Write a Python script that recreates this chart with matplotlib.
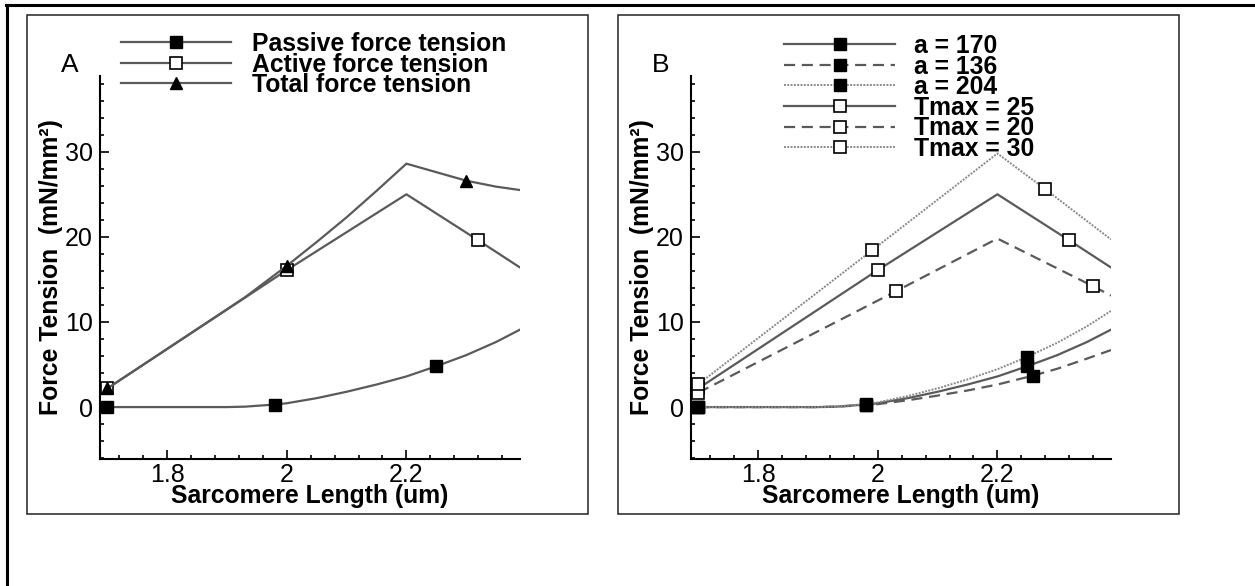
import matplotlib
matplotlib.use("Agg")
import matplotlib.pyplot as plt
from matplotlib import font_manager
from matplotlib.ticker import MultipleLocator, FuncFormatter
from matplotlib.patches import Rectangle
from matplotlib.lines import Line2D

# panel A data
passive_x = [1.70, 1.80, 1.90, 1.93, 1.98, 2.00, 2.05, 2.10, 2.15, 2.20, 2.25, 2.30, 2.35, 2.39]
passive_y = [0.0, 0.0, 0.0, 0.05, 0.3, 0.45, 1.05, 1.8, 2.65, 3.6, 4.8, 6.1, 7.65, 9.1]
passive_marks = [0, 4, 10]

active_x = [1.70, 2.00, 2.20, 2.32, 2.39]
active_y = [2.2, 16.1, 25.0, 19.6, 16.4]
active_marks = [0, 1, 3]

total_x = [1.70, 1.90, 1.93, 2.00, 2.05, 2.10, 2.15, 2.20, 2.25, 2.30, 2.35, 2.39]
total_y = [2.2, 11.5, 12.9, 16.6, 19.4, 22.3, 25.4, 28.6, 27.6, 26.6, 25.9, 25.5]
total_marks = [0, 3, 9]

# panel B data
a170_x = [1.70, 1.80, 1.90, 1.93, 1.98, 2.00, 2.05, 2.10, 2.15, 2.20, 2.25, 2.30, 2.35, 2.39]
a170_y = [0.0, 0.0, 0.0, 0.05, 0.3, 0.45, 1.05, 1.8, 2.65, 3.6, 4.8, 6.1, 7.65, 9.1]
a136_x = [1.70, 1.80, 1.90, 1.93, 1.98, 2.00, 2.05, 2.10, 2.15, 2.20, 2.26, 2.30, 2.35, 2.39]
a136_y = [0.0, 0.0, 0.0, 0.04, 0.25, 0.35, 0.8, 1.35, 1.95, 2.65, 3.7, 4.5, 5.7, 6.7]
a204_x = [1.70, 1.80, 1.90, 1.93, 1.98, 2.00, 2.05, 2.10, 2.15, 2.20, 2.25, 2.30, 2.35, 2.39]
a204_y = [0.0, 0.0, 0.0, 0.06, 0.35, 0.55, 1.3, 2.2, 3.25, 4.45, 5.9, 7.55, 9.5, 11.3]
a_marks = [0, 4, 10]

t25_x = [1.70, 2.00, 2.20, 2.32, 2.39]
t25_y = [2.2, 16.1, 25.0, 19.6, 16.4]
t20_x = [1.70, 2.03, 2.20, 2.36, 2.39]
t20_y = [1.7, 13.6, 19.8, 14.2, 13.1]
t30_x = [1.70, 1.99, 2.20, 2.28, 2.39]
t30_y = [2.7, 18.4, 29.8, 25.6, 19.7]
t_marks = [0, 1, 3]

labels_a = ["Passive force tension", "Active force tension", "Total force tension"]
labels_b = ["a = 170", "a = 136", "a = 204", "Tmax = 25", "Tmax = 20", "Tmax = 30"]

# fonts
names = {f.name for f in font_manager.fontManager.ttflist}
if "Liberation Sans Narrow" in names:
    narrow = "Liberation Sans Narrow"
    tick_size = 20
else:
    narrow = "Liberation Sans"
    tick_size = 18
plt.rcParams["font.family"] = [narrow, "DejaVu Sans"]
bold = dict(family="Liberation Sans", weight="bold", size=17.8)

W, H = 1255, 586
fig = plt.figure(figsize=(W / 100, H / 100), dpi=100)
fig.patch.set_facecolor("white")

dark = "#5a5a5a"
light = "#8a8a8a"
dash = (0, (5, 3))
dots = (0, (1, 0.7))


def setup_axes(ax, letter):
    ax.set_xlim(1.6875, 2.39)
    ax.set_ylim(-6.1, 38.9)
    for s in ["top", "right"]:
        ax.spines[s].set_visible(False)
    for s in ["left", "bottom"]:
        ax.spines[s].set_linewidth(1.5)
    ax.xaxis.set_major_locator(MultipleLocator(0.2))
    ax.xaxis.set_minor_locator(MultipleLocator(0.04))
    ax.yaxis.set_major_locator(MultipleLocator(10))
    ax.yaxis.set_minor_locator(MultipleLocator(2))
    ax.xaxis.set_major_formatter(FuncFormatter(lambda v, p: "%g" % round(v, 2)))
    ax.tick_params(which="both", direction="in", width=1.2, labelsize=tick_size)
    ax.tick_params(which="major", length=6.5)
    ax.tick_params(which="minor", length=3.2)
    ax.tick_params(axis="x", pad=3)
    ax.tick_params(axis="y", pad=5)
    ax.set_xlabel("Sarcomere Length (um)", fontdict=bold)
    ax.set_ylabel("Force Tension  (mN/mm\u00b2)", fontdict=bold)
    ax.xaxis.set_label_coords(0.5, -0.066)
    ax.yaxis.set_label_coords(-0.089, 0.5)
    ax.text(-0.0714, 1.03, letter, transform=ax.transAxes, ha="center", va="center",
            fontsize=tick_size + 1)


# panel A
axA = fig.add_axes([100 / W, 127 / H, 420 / W, 383 / H])
lp, = axA.plot(passive_x, passive_y, color=dark, lw=1.6, marker="s", ms=8,
               mfc="black", mec="black", markevery=passive_marks)
la, = axA.plot(active_x, active_y, color=dark, lw=1.6, marker="s", ms=8,
               mfc="white", mec="black", mew=1.2, markevery=active_marks)
lt, = axA.plot(total_x, total_y, color=dark, lw=1.6, marker="^", ms=8,
               mfc="black", mec="black", markevery=total_marks)
setup_axes(axA, "A")
axA.legend([lp, la, lt], labels_a, loc="upper left", bbox_to_anchor=(120.5 / W, 1 - 32 / H),
           bbox_transform=fig.transFigure, frameon=False, handlelength=4.47,
           handletextpad=0.85, labelspacing=-0.14, borderpad=0, borderaxespad=0,
           numpoints=1, prop=bold)

# panel B
axB = fig.add_axes([691 / W, 127 / H, 420 / W, 383 / H])
h1, = axB.plot(a170_x, a170_y, color=dark, lw=1.6, marker="s", ms=8,
               mfc="black", mec="black", markevery=a_marks)
h2, = axB.plot(a136_x, a136_y, color=dark, lw=1.6, ls=dash, marker="s", ms=8,
               mfc="black", mec="black", markevery=a_marks)
h3, = axB.plot(a204_x, a204_y, color=light, lw=1.4, ls=dots, marker="s", ms=8,
               mfc="black", mec="black", markevery=a_marks)
h4, = axB.plot(t25_x, t25_y, color=dark, lw=1.6, marker="s", ms=8,
               mfc="white", mec="black", mew=1.2, markevery=t_marks)
h5, = axB.plot(t20_x, t20_y, color=dark, lw=1.6, ls=dash, marker="s", ms=8,
               mfc="white", mec="black", mew=1.2, markevery=t_marks)
h6, = axB.plot(t30_x, t30_y, color=light, lw=1.4, ls=dots, marker="s", ms=8,
               mfc="white", mec="black", mew=1.2, markevery=t_marks)
setup_axes(axB, "B")
axB.legend([h1, h2, h3, h4, h5, h6], labels_b, loc="upper left",
           bbox_to_anchor=(784 / W, 1 - 34 / H), bbox_transform=fig.transFigure,
           frameon=False, handlelength=4.5, handletextpad=0.75, labelspacing=-0.14,
           borderpad=0, borderaxespad=0, numpoints=1, prop=bold)

# panel frames and page border
for x0 in [27, 618]:
    fig.add_artist(Rectangle((x0 / W, (H - 514) / H), 561 / W, 499 / H,
                             transform=fig.transFigure, fill=False, lw=1.1, ec="#222222"))
fig.add_artist(Line2D([6 / W, 1], [1 - 5 / H, 1 - 5 / H], transform=fig.transFigure,
                      color="black", lw=2.2))
fig.add_artist(Line2D([7 / W, 7 / W], [0, 1 - 5 / H], transform=fig.transFigure,
                      color="black", lw=2.2))

fig.savefig("out.png", dpi=100)
